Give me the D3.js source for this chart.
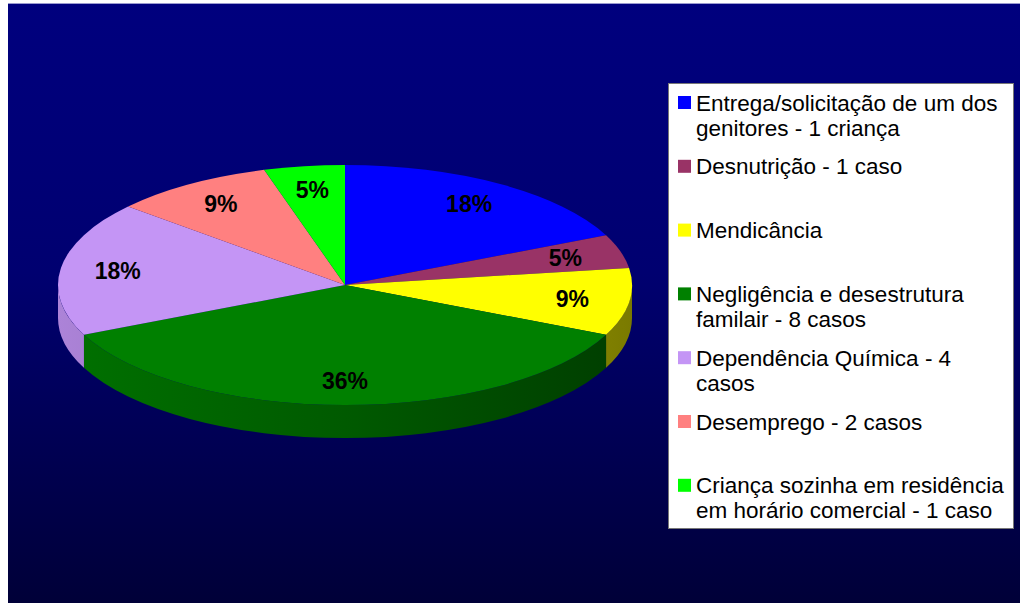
<!DOCTYPE html>
<html>
<head>
<meta charset="utf-8">
<script src="https://cdn.jsdelivr.net/npm/d3@7"></script>
<style>
  html, body { margin: 0; padding: 0; background: #fff; }
  svg { display: block; }
  text { font-family: "Liberation Sans", Arial, sans-serif; }
</style>
</head>
<body>
<svg id="chart" width="1020" height="603"></svg>
<script>
// Data
const categories = [
    ["Entrega/solicitação de um dos", "genitores - 1 criança"],
    ["Desnutrição - 1 caso"],
    ["Mendicância"],
    ["Negligência e desestrutura", "familair - 8 casos"],
    ["Dependência Química - 4", "casos"],
    ["Desemprego - 2 casos"],
    ["Criança sozinha em residência", "em horário comercial - 1 caso"]
];
const counts = [4, 1, 2, 8, 4, 2, 1];
const percentLabels = ["18%", "5%", "9%", "36%", "18%", "9%", "5%"];
const colors = ["#0000ff", "#993366", "#ffff00", "#008000", "#c495f5", "#ff8080", "#00ff00"];

const W = 1020, H = 603;
const svg = d3.select("#chart");
const defs = svg.append("defs");

// Background gradient
const bg = defs.append("linearGradient")
    .attr("id", "bg").attr("x1", 0).attr("y1", 0).attr("x2", 0).attr("y2", 1);
bg.append("stop").attr("offset", "0%").attr("stop-color", "#00007e");
bg.append("stop").attr("offset", "45%").attr("stop-color", "#000070");
bg.append("stop").attr("offset", "100%").attr("stop-color", "#000038");

svg.append("rect").attr("x", 8).attr("y", 3).attr("width", W - 8).attr("height", H - 3)
    .attr("fill", "url(#bg)");
svg.append("line").attr("x1", 8).attr("x2", W).attr("y1", 3.5).attr("y2", 3.5)
    .attr("stroke", "#9a9ad0").attr("stroke-width", 1);

// Pie geometry (3D ellipse)
const cx = 345, cy = 285, rx = 287, ry = 120, depth = 33;
const px = (a, f = 1) => cx + rx * f * Math.sin(a);
const py = (a, f = 1) => cy - ry * f * Math.cos(a);

const arcs = d3.pie().sort(null).value(d => d)(counts);

// Side gradients
colors.forEach((c, i) => {
    const g = defs.append("linearGradient")
        .attr("id", "side" + i)
        .attr("gradientUnits", "userSpaceOnUse")
        .attr("x1", cx - rx).attr("x2", cx + rx).attr("y1", 0).attr("y2", 0);
    const base = d3.color(c);
    const mix = k => { const o = base.copy(); o.r *= k; o.g *= k; o.b *= k; return o.formatHex(); };
    g.append("stop").attr("offset", "0%").attr("stop-color", mix(0.88));
    g.append("stop").attr("offset", "50%").attr("stop-color", mix(0.7));
    g.append("stop").attr("offset", "100%").attr("stop-color", mix(0.48));
});

// Front sides
const sides = svg.append("g");
arcs.forEach((d, i) => {
    const s = Math.max(d.startAngle, Math.PI / 2);
    const e = Math.min(d.endAngle, 3 * Math.PI / 2);
    if (s >= e) return;
    const large = e - s > Math.PI ? 1 : 0;
    const p = `M${px(s)},${py(s)} A${rx},${ry} 0 ${large} 1 ${px(e)},${py(e)}` +
        ` L${px(e)},${py(e) + depth} A${rx},${ry} 0 ${large} 0 ${px(s)},${py(s) + depth} Z`;
    sides.append("path").attr("d", p).attr("fill", `url(#side${i})`);
});

// Top faces
svg.append("g").selectAll("path")
    .data(arcs)
    .enter().append("path")
    .attr("d", d => {
        const large = d.endAngle - d.startAngle > Math.PI ? 1 : 0;
        return `M${cx},${cy} L${px(d.startAngle)},${py(d.startAngle)}` +
            ` A${rx},${ry} 0 ${large} 1 ${px(d.endAngle)},${py(d.endAngle)} Z`;
    })
    .attr("fill", (d, i) => colors[i]);

// Percent labels
svg.append("g").selectAll("text")
    .data(arcs)
    .enter().append("text")
    .attr("x", d => px((d.startAngle + d.endAngle) / 2, 0.8))
    .attr("y", d => py((d.startAngle + d.endAngle) / 2, 0.8))
    .attr("text-anchor", "middle")
    .attr("dominant-baseline", "central")
    .attr("font-size", 23)
    .attr("font-weight", "bold")
    .attr("fill", "#000")
    .text((d, i) => percentLabels[i]);

// Legend
const lg = svg.append("g");
lg.append("rect").attr("x", 668.5).attr("y", 83.5).attr("width", 345).attr("height", 445)
    .attr("fill", "#fff").attr("stroke", "#777").attr("stroke-width", 1);

const step = 63.8, firstY = 103, lineH = 25;
categories.forEach((lines, i) => {
    const y0 = firstY + i * step;
    lg.append("rect").attr("x", 678).attr("y", y0 - 7).attr("width", 13).attr("height", 13)
        .attr("fill", colors[i]);
    lines.forEach((t, j) => {
        lg.append("text")
            .attr("x", 696).attr("y", y0 + j * lineH)
            .attr("dominant-baseline", "central")
            .attr("font-size", 22.5)
            .attr("fill", "#000")
            .text(t);
    });
});
</script>
</body>
</html>
